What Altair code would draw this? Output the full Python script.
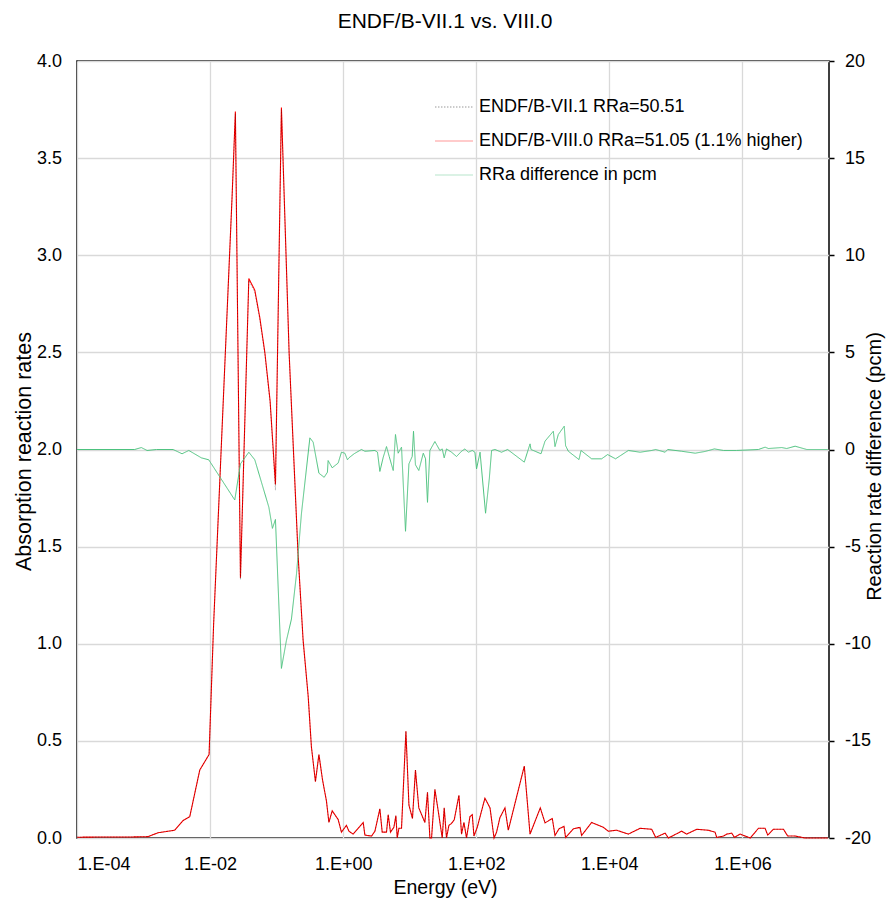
import altair as alt
import pandas as pd

# ---------------- data ----------------
energy_rr = [1.0e-4, 2.07e-4, 5.85e-4, 1.17e-3, 1.65e-3, 2.94e-3, 3.93e-3, 4.95e-3, 7.0e-3, 9.66e-3,
             1.13e-2, 2.14e-2, 2.40e-2, 2.86e-2, 3.82e-2, 4.70e-2, 5.58e-2, 6.65e-2, 7.98e-2, 9.6e-2,
             0.118, 0.154, 0.210, 0.250, 0.298, 0.333, 0.383, 0.432, 0.489, 0.561,
             0.610, 0.684, 0.841, 0.942, 1.12, 1.22, 1.41, 2.0, 2.12, 2.67,
             3.0, 3.56, 3.86, 4.48, 4.75, 5.14, 5.78, 6.2, 6.49, 6.88,
             7.53, 8.77, 9.73, 11.0, 12.2, 13.7, 16.9, 18.5, 20.1, 21.3,
             23.9, 26.8, 30.8, 33.0, 35.7, 38.8, 42.5, 46.7, 54.9, 60.1,
             65.3, 71.4, 80.4, 87.1, 92.3, 103.5, 135, 161, 185, 202,
             227, 270, 303, 527, 643, 917, 1080, 1390, 1525, 1750,
             2080, 2200, 2880, 3620, 3830, 5420, 8130, 9660, 12900, 19300,
             29000, 43300, 49700, 68900, 77100, 122000, 145000, 206000, 308000, 388000,
             411000, 518000, 581000, 690000, 759000, 923000, 1.31e6, 1.74e6, 2.19e6, 2.40e6,
             2.92e6, 4.14e6, 4.79e6, 6.19e6, 8.77e6, 1.92e7]

rr_viii0 = [0.004, 0.005, 0.005, 0.007, 0.027, 0.04, 0.09, 0.11, 0.35, 0.43,
            1.1, 3.3, 3.74, 1.34, 2.88, 2.82, 2.68, 2.5, 2.25, 1.82,
            3.76, 2.50, 1.46, 1.02, 0.73, 0.47, 0.29, 0.43, 0.30, 0.19,
            0.08, 0.14, 0.095, 0.03, 0.065, 0.035, 0.02, 0.08, 0.015, 0.01,
            0.035, 0.15, 0.03, 0.03, 0.12, 0.03, 0.055, 0.115, 0.0, 0.05,
            0.05, 0.55, 0.17, 0.10, 0.35, 0.155, 0.08, 0.235, 0.0, 0.0,
            0.25, 0.14, 0.0, 0.155, 0.0, 0.065, 0.075, 0.094, 0.22, 0.02,
            0.08, 0.0, 0.11, 0.12, 0.01, 0.055, 0.205, 0.155, 0.0, 0.03,
            0.105, 0.155, 0.04, 0.37, 0.02, 0.155, 0.078, 0.10, 0.013, 0.047,
            0.06, 0.003, 0.047, 0.055, 0.013, 0.08, 0.055, 0.035, 0.04, 0.02,
            0.05, 0.045, 0.003, 0.025, 0.0, 0.035, 0.02, 0.045, 0.04, 0.03,
            0.003, 0.01, 0.02, 0.025, 0.003, 0.02, 0.0, 0.05, 0.05, 0.015,
            0.045, 0.045, 0.01, 0.01, 0.0, 0.0]

rr_vii1 = [0.004, 0.005, 0.005, 0.007, 0.027, 0.04, 0.09, 0.11, 0.35, 0.43,
           1.1, 3.3, 3.73, 1.33, 2.87, 2.81, 2.67, 2.49, 2.24, 1.79,
           3.75, 2.49, 1.45, 1.01, 0.73, 0.47, 0.29, 0.43, 0.30, 0.19,
           0.08, 0.14, 0.095, 0.03, 0.065, 0.035, 0.02, 0.08, 0.015, 0.01,
           0.035, 0.15, 0.03, 0.03, 0.12, 0.03, 0.055, 0.115, 0.0, 0.05,
           0.05, 0.55, 0.17, 0.10, 0.35, 0.155, 0.08, 0.235, 0.0, 0.0,
           0.25, 0.14, 0.0, 0.155, 0.0, 0.065, 0.075, 0.094, 0.22, 0.02,
           0.08, 0.0, 0.11, 0.12, 0.01, 0.055, 0.205, 0.155, 0.0, 0.03,
           0.105, 0.155, 0.04, 0.37, 0.02, 0.155, 0.078, 0.10, 0.013, 0.047,
           0.06, 0.003, 0.047, 0.055, 0.013, 0.08, 0.055, 0.035, 0.04, 0.02,
           0.05, 0.045, 0.003, 0.025, 0.0, 0.035, 0.02, 0.045, 0.04, 0.03,
           0.003, 0.01, 0.02, 0.025, 0.003, 0.02, 0.0, 0.05, 0.05, 0.015,
           0.045, 0.045, 0.01, 0.01, 0.0, 0.0]

energy_diff = [1.0e-4, 7.37e-4, 9.26e-4, 1.13e-3, 1.56e-3, 2.78e-3, 3.79e-3, 4.79e-3, 7.40e-3, 9.55e-3,
               2.35e-2, 2.86e-2, 3.82e-2, 4.70e-2, 7.64e-2, 8.65e-2, 9.6e-2, 0.118, 0.140, 0.167,
               0.199, 0.236, 0.316, 0.354, 0.432, 0.518, 0.580, 0.594, 0.684, 0.841,
               0.942, 1.06, 1.16, 1.22, 1.46, 1.88, 2.12, 3.0, 3.28, 3.56,
               4.0, 4.48, 4.92, 5.65, 6.11, 6.71, 7.53, 8.65, 9.73, 10.9,
               11.4, 12.2, 13.7, 16.0, 17.3, 18.5, 20.1, 23.9, 28.4, 30.8,
               33.0, 35.7, 42.5, 50.6, 60.1, 67.6, 75.9, 87.1, 95.5, 101,
               114, 138, 157, 170, 191, 240, 296, 527, 643, 665,
               940, 1080, 1440, 1525, 1710, 2100, 2200, 2420, 3500, 3750,
               5420, 7660, 9420, 12400, 19300, 29000, 43300, 49700, 68900, 75300,
               122000, 195000, 275000, 379000, 518000, 820000, 1.74e6, 2.19e6, 2.46e6, 3.90e6,
               4.63e6, 6.19e6, 9.27e6, 1.92e7]

diff_pcm = [0, 0, 0.1, -0.05, 0, 0, -0.22, -0.05, -0.43, -0.53,
            -2.6, -0.74, -0.14, -0.53, -2.97, -4.06, -3.6, -11.27, -9.85, -8.73,
            -6.4, -3.3, 0.6, 0.38, -1.22, -1.43, -1.17, -0.57, -0.94, -0.7,
            -0.14, -0.19, -0.53, -0.43, -0.22, 0, -0.09, -0.05, -0.14, -1.13,
            -0.4, 0.15, -0.36, -1.08, 0.77, -0.19, 0.12, -4.21, -0.74, -0.36,
            0.94, -0.79, -1.08, -0.19, -0.48, -2.72, -0.05, 0.41, -0.05, 0.03,
            -0.43, 0.03, -0.14, -0.36, -0.09, 0.03, -0.14, -0.05, -0.14, -1.0,
            -0.14, -3.28, -1.51, -0.05, 0, -0.14, 0, -0.65, 0.29, 0,
            -0.22, 0.43, 0.94, 0.15, 0.77, 1.2, 0.2, -0.09, -0.52, -0.05,
            -0.48, -0.48, -0.26, -0.48, -0.05, -0.14, -0.05, 0, -0.14, 0,
            -0.09, -0.19, -0.1, 0.03, -0.05, -0.05, 0, 0.12, 0.05, 0.1,
            0.05, 0.17, 0, 0]

x_ticks = [1e-4, 1e-2, 1, 1e2, 1e4, 1e6]
left_ticks = [0, 0.5, 1.0, 1.5, 2.0, 2.5, 3.0, 3.5, 4.0]
right_ticks = [-20, -15, -10, -5, 0, 5, 10, 15, 20]

S7 = "ENDF/B-VII.1 RRa=50.51"
S8 = "ENDF/B-VIII.0 RRa=51.05 (1.1% higher)"
SD = "RRa difference in pcm"
series = [S7, S8, SD]
series_colors = ["#000000", "#ff0000", "#4cc27e"]
series_dash = [[1.5, 1.5], [1, 0], [1, 0]]

FONT = "Liberation Sans"

df7 = pd.DataFrame({"E": energy_rr, "v": rr_vii1, "s": S7})
df8 = pd.DataFrame({"E": energy_rr, "v": rr_viii0, "s": S8})
dfd = pd.DataFrame({"E": energy_diff, "d": diff_pcm, "s": SD})

x_enc = alt.X(
    "E:Q",
    scale=alt.Scale(type="log", domain=[1e-4, 2e7]),
    axis=alt.Axis(
        values=x_ticks,
        labelExpr="'1.E' + (datum.value < 1 ? '-' : '+') + (abs(round(log(datum.value)/LN10)) < 10 ? '0' : '') + abs(round(log(datum.value)/LN10))",
        title="Energy (eV)",
        ticks=False, tickSize=0, domain=False,
        labelPadding=17, labelFontSize=18,
        grid=True, gridColor="#d9d9d9", gridWidth=1.3,
        titleFontSize=19.5,
        titleX=368, titleY=49, titleBaseline="middle", titleAlign="center",
    ),
)

legend = alt.Legend(
    title=None, orient="none", legendX=361, legendY=30,
    symbolType="M-1.27,0H1.27", symbolSize=900, symbolStrokeWidth=1.2,
    labelFontSize=18, labelFont=FONT, labelColor="black", labelLimit=0,
    labelOffset=9, rowPadding=9, padding=0,
)

color = alt.Color("s:N", scale=alt.Scale(domain=series, range=series_colors), legend=legend)
dash = alt.StrokeDash("s:N", scale=alt.Scale(domain=series, range=series_dash), legend=legend)

y_left = alt.Y(
    "v:Q",
    scale=alt.Scale(domain=[0, 4]),
    axis=alt.Axis(
        values=left_ticks, format=".1f", title="Absorption reaction rates",
        ticks=False, tickSize=0, domain=False, labelPadding=15.5, labelFontSize=18,
        grid=True, gridColor="#d9d9d9", gridWidth=1.3,
        titleFontSize=21.5,
        titleAngle=270, titleX=-53, titleY=390, titleBaseline="middle", titleAlign="center",
    ),
)

y_right = alt.Y(
    "d:Q",
    scale=alt.Scale(domain=[-20, 20]),
    axis=alt.Axis(
        orient="right", values=right_ticks, labelExpr="'' + datum.value",
        title="Reaction rate difference (pcm)",
        ticks=True, tickSize=5, tickColor="black", tickWidth=1.5, domain=False,
        labelPadding=10.5, labelFontSize=18, grid=False,
        titleFontSize=20,
        titleAngle=270, titleX=45, titleY=405, titleBaseline="middle", titleAlign="center",
    ),
)

red = alt.Chart(df8).mark_line(strokeWidth=1.1).encode(x=x_enc, y=y_left, color=color, strokeDash=dash)
black = alt.Chart(df7).mark_line(strokeWidth=0.7, opacity=0.4).encode(x=x_enc, y=y_left, color=color, strokeDash=dash)
green = alt.Chart(dfd).mark_line(strokeWidth=1.0).encode(x=x_enc, y=y_right, color=color, strokeDash=dash)

rates = alt.layer(red, black)

chart = (
    alt.layer(rates, green)
    .resolve_scale(y="independent")
    .properties(
        width=752, height=777,
        padding={"left": 69, "top": 53, "right": 57, "bottom": 61},
        autosize=alt.AutoSizeParams(type="none"),
        title=alt.Title("ENDF/B-VII.1 vs. VIII.0", fontSize=21, font=FONT, fontWeight="normal",
                        color="black", anchor="middle", dx=-8, offset=20),
        background="white",
    )
    .configure_view(stroke="black", strokeWidth=1.5)
    .configure_axis(labelFont=FONT, labelColor="black",
                    titleFont=FONT, titleFontWeight="normal", titleColor="black")
)

chart.save("out.html", embed_options={"renderer": "svg", "actions": False})
